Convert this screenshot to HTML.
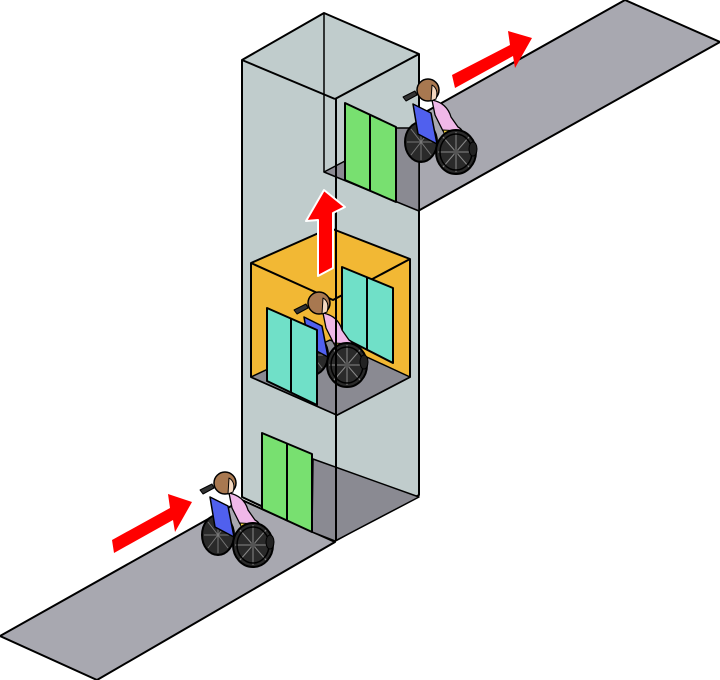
<!DOCTYPE html>
<html><head><meta charset="utf-8"><style>html,body{margin:0;padding:0;background:#fff}svg{display:block}</style></head>
<body>
<svg width="720" height="680" viewBox="0 0 720 680" xmlns="http://www.w3.org/2000/svg" stroke-linejoin="round">
<defs>
<g id="wc">
  <ellipse cx="218" cy="535" rx="16" ry="20" fill="#2a2a2a" stroke="#000" stroke-width="2"/>
  <g stroke="#777" stroke-width="1">
    <line x1="218" y1="517" x2="218" y2="553"/><line x1="204" y1="535" x2="232" y2="535"/>
    <line x1="208" y1="522" x2="228" y2="548"/><line x1="228" y1="522" x2="208" y2="548"/>
  </g>
  <path d="M210 497 L228 506 L234 537 L215 527 Z" fill="#5060ee" stroke="#000" stroke-width="1.5"/>
  <path d="M200 490 L212 484 L214 488 L203 494 Z" fill="#333" stroke="#000" stroke-width="1"/>
  <path d="M229 493 Q244 496 248 510 L255 520 Q262 524 258 528 L240 524 L232 508 Z" fill="#f0b8e8" stroke="#000" stroke-width="1.3"/>
  <path d="M240 523 L258 524 L256 530 L242 530 Z" fill="#f0d040" stroke="#000" stroke-width="1"/>
  <circle cx="225" cy="483" r="11" fill="#a87850" stroke="#000" stroke-width="1.5"/>
  <path d="M229 478 Q236 482 233 492 L228 494 Z" fill="#f4d8c0" stroke="#000" stroke-width="1"/>
  <ellipse cx="253" cy="545" rx="20" ry="22" fill="#2a2a2a" stroke="#000" stroke-width="2"/>
  <g stroke="#888" stroke-width="1">
    <line x1="253" y1="525" x2="253" y2="565"/><line x1="235" y1="545" x2="271" y2="545"/>
    <line x1="240" y1="530" x2="266" y2="560"/><line x1="266" y1="530" x2="240" y2="560"/>
  </g>
  <ellipse cx="253" cy="545" rx="16" ry="18" fill="none" stroke="#000" stroke-width="1.5"/>
  <circle cx="253" cy="545" r="3" fill="#555"/>
  <ellipse cx="270" cy="542" rx="4" ry="7" fill="#222" stroke="#000"/>
</g>
</defs>
<!-- lower walkway -->
<polygon points="0,636 242,500 335,542 97,680" fill="#a8a8b0" stroke="#000" stroke-width="2"/>
<!-- upper walkway -->
<polygon points="397,128 625,0 720,42 418,211" fill="#a8a8b0" stroke="#000" stroke-width="2"/>
<!-- shaft -->
<polygon points="242,60 324,13 419,54 419,495 335,541 242,497" fill="#c0cccc" stroke="#000" stroke-width="2"/>
<polygon points="313,459 419,497 335,541 312,532" fill="#8a8a92" stroke="#000" stroke-width="1.5"/>
<polygon points="324,172 345,161 397,128 419,128 419,211" fill="#8a8a92" stroke="#000" stroke-width="1.5"/>
<line x1="324" y1="13" x2="324" y2="172" stroke="#000" stroke-width="1.5"/>
<line x1="242" y1="60" x2="335" y2="99" stroke="#000" stroke-width="2"/>
<line x1="335" y1="99" x2="419" y2="54" stroke="#000" stroke-width="2"/>
<!-- doors -->
<polygon points="345,103 396,127 396,202 345,180" fill="#78e070" stroke="#000" stroke-width="2"/>
<line x1="370" y1="115" x2="370" y2="191" stroke="#000" stroke-width="2"/>
<polygon points="262,433 312,454 312,532 262,509" fill="#78e070" stroke="#000" stroke-width="2"/>
<line x1="287" y1="443" x2="287" y2="520" stroke="#000" stroke-width="2"/>
<line x1="242" y1="497" x2="262" y2="506" stroke="#000" stroke-width="1.5"/>
<!-- car -->
<polygon points="251,263 330,228 410,259 410,377 337,415 251,377" fill="#f2b834" stroke="#000" stroke-width="2"/>
<polygon points="251,377 330,340 410,377 337,415" fill="#8a8a92" stroke="#000" stroke-width="1.5"/>
<polyline points="251,263 333,300 410,259" fill="none" stroke="#000" stroke-width="2"/>
<polygon points="342,267 393,288 393,363 342,337" fill="#70e0c8" stroke="#000" stroke-width="2"/>
<line x1="367" y1="277" x2="367" y2="350" stroke="#000" stroke-width="2"/>
<use href="#wc" transform="translate(94,-180)"/>
<polygon points="267,308 317,330 317,405 267,381" fill="#70e0c8" stroke="#000" stroke-width="2"/>
<line x1="291" y1="318" x2="291" y2="393" stroke="#000" stroke-width="2"/>
<line x1="336" y1="99" x2="336" y2="541" stroke="#000" stroke-width="2"/>
<!-- wheelchairs -->
<use href="#wc"/>
<use href="#wc" transform="translate(203,-393)"/>
<!-- arrows -->
<polygon points="318,276 318,220 306,221 324,190 345,207 333,213 333,268" fill="#f00" stroke="#fff" stroke-width="2"/>
<polygon points="112,540 170,508 168,494 192,502 175,532 173,520 114,553" fill="#f00"/>
<polygon points="452,75 510,45 508,31 532,38 515,68 513,56 455,88" fill="#f00"/>
</svg>
</body></html>
